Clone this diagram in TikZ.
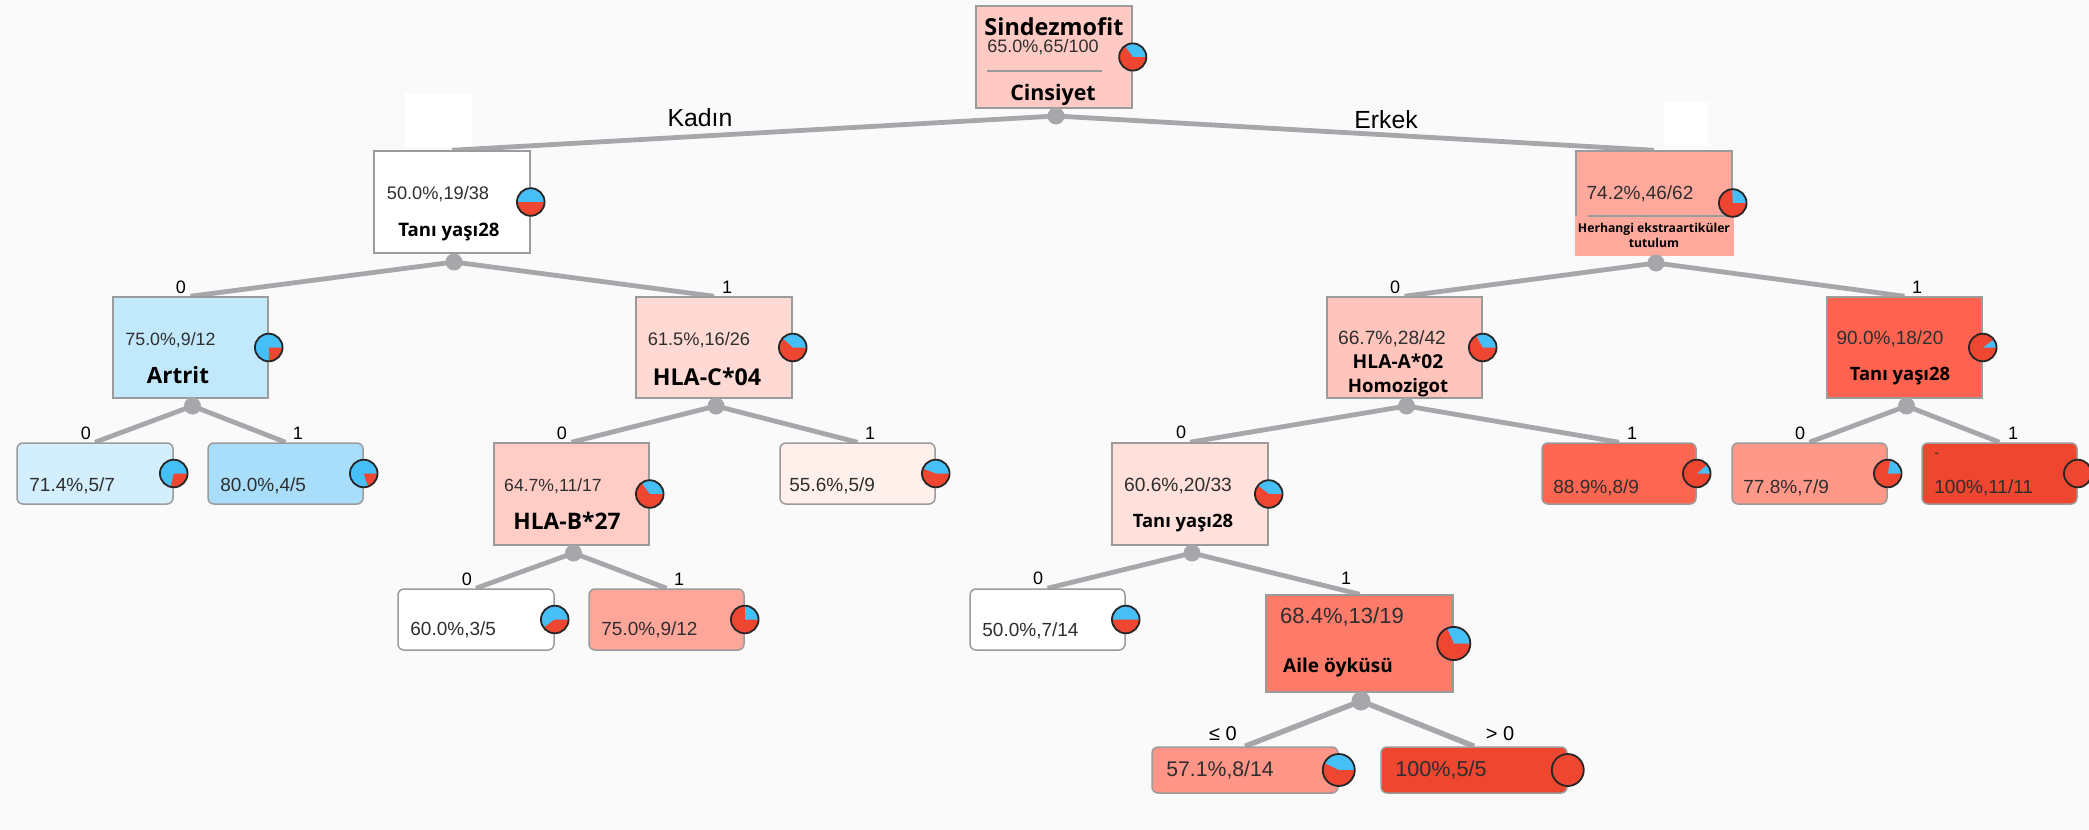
\documentclass[tikz,border=0pt]{standalone}
\usepackage{fontspec}
\setmainfont{Liberation Sans}
\newfontfamily\boldfam{Open Sans}

\definecolor{bgcol}{HTML}{FAFAFA}
\definecolor{boxline}{HTML}{9B9B9B}
\definecolor{edgecol}{HTML}{A7A7AB}
\definecolor{numcol}{HTML}{2E2E2E}
\definecolor{piered}{HTML}{EE4630}
\definecolor{pieblue}{HTML}{46BEF6}
% node fills
\definecolor{cRoot}{HTML}{FFCAC3}
\definecolor{cArtrit}{HTML}{C2E8FC}
\definecolor{cHlaC}{HTML}{FFDAD4}
\definecolor{cHlaB}{HTML}{FFCDC6}
\definecolor{cHerh}{HTML}{FFA89C}
\definecolor{cHlaA}{HTML}{FFC5BD}
\definecolor{cTanR}{HTML}{FF634F}
\definecolor{cTanM}{HTML}{FFE0DA}
\definecolor{cAile}{HTML}{FF7B69}
\definecolor{cLa}{HTML}{D3EFFD}
\definecolor{cLb}{HTML}{A9DEFA}
\definecolor{cLc}{HTML}{FFF0EC}
\definecolor{cLe}{HTML}{FFA69A}
\definecolor{cLf}{HTML}{FF6652}
\definecolor{cLg}{HTML}{FF9889}
\definecolor{cLh}{HTML}{EF462F}
\definecolor{cLj}{HTML}{FF9586}
\definecolor{cLk}{HTML}{EE462F}

\pgfdeclarelayer{bg}
\pgfsetlayers{bg,main}

% class pie: red share drawn clockwise from 3 o'clock, blue for the rest
\newcommand{\piechart}[3]{%
  \fill[pieblue] (#1) circle[radius=#2];
  \fill[piered] (#1) -- ++(0:#2) arc[start angle=0, delta angle={-360*#3}, radius=#2] -- cycle;
  \draw[black!85, line width=0.9pt] (#1) circle[radius=#2];
}

\begin{document}
\begin{tikzpicture}[x=0.5pt, y=-0.5pt,
  splitbox/.style={draw=boxline, line width=0.75pt, minimum width=78pt, minimum height=50.5pt, inner sep=0pt},
  leafbox/.style={splitbox, rounded corners=3pt, minimum height=30.5pt},
  conn/.style={draw=edgecol, line width=2.4pt},
  splitdot/.style={circle, fill=edgecol, minimum size=8.5pt, inner sep=0pt},
  numtext/.style={font=\fontsize{9.2}{11}\selectfont, text=numcol, inner sep=0pt, anchor=base},
  leaftext/.style={numtext, font=\fontsize{9.5}{11}\selectfont, anchor=base west},
  vartext/.style={font=\boldfam\bfseries\fontsize{9.3}{11}\selectfont, inner sep=0pt, anchor=base},
  branchtext/.style={font=\fontsize{9}{10}\selectfont, inner sep=0pt, anchor=base},
  sepline/.style={draw=boxline, line width=0.7pt}
]
\begin{pgfonlayer}{bg}
  \fill[bgcol] (0,0) rectangle (2089,830);
  \fill[white] (405,93) rectangle (472,147);
  \fill[white] (1664,102) rectangle (1708,146);
\end{pgfonlayer}
\useasboundingbox (0,0) rectangle (2089,830);

% ---- split nodes
\node[splitbox, fill=cRoot, minimum height=51pt] (root) at (1054,57) {};
\node[splitbox, fill=white, minimum height=51pt] (tanL) at (452,202) {};
\node[splitbox, fill=cArtrit, minimum width=77.5pt] (artrit) at (190.5,347.5) {};
\node[splitbox, fill=cHlaC] (hlac) at (714,347.5) {};
\node[splitbox, fill=cHlaB, minimum width=77.5pt, minimum height=51pt] (hlab) at (571.5,494) {};
\node[splitbox, fill=cHerh, minimum height=52pt] (herh) at (1654,203) {};
\node[splitbox, fill=cHlaA, minimum width=77.5pt] (hlaa) at (1404.5,347.5) {};
\node[splitbox, fill=cTanR, minimum width=77.5pt] (tanR) at (1904.5,347.5) {};
\node[splitbox, fill=cTanM, minimum height=51pt] (tanM) at (1190,494) {};
\node[splitbox, fill=cAile, minimum width=93.5pt, minimum height=48.5pt] (aile) at (1359.5,643.5) {};

% ---- leaves
\node[leafbox, fill=cLa] (lA) at (95,473.5) {};
\node[leafbox, fill=cLb, minimum width=77.5pt] (lB) at (285.5,473.5) {};
\node[leafbox, fill=cLc, minimum width=77.5pt] (lC) at (857.5,473.5) {};
\node[leafbox, fill=white] (lD) at (476,619.5) {};
\node[leafbox, fill=cLe, minimum width=77.5pt] (lE) at (666.5,619.5) {};
\node[leafbox, fill=cLf, minimum width=77pt] (lF) at (1619,473.5) {};
\node[leafbox, fill=cLg, minimum width=77.5pt] (lG) at (1809.5,473.5) {};
\node[leafbox, fill=cLh, minimum width=77.5pt] (lH) at (1999.5,473.5) {};
\node[leafbox, fill=white, minimum width=77.5pt] (lI) at (1047.5,619.5) {};
\node[leafbox, fill=cLj, minimum width=93pt, minimum height=23pt] (lJ) at (1245,770) {};
\node[leafbox, fill=cLk, minimum width=93pt, minimum height=23pt] (lK) at (1474,770) {};

% lower band of the Herhangi node
\fill[cHerh] (1574.5,216) rectangle (1734,256);
\draw[sepline] (1588,216) -- (1731,216);
\draw[sepline] (987,71) -- (1102,71);

% ---- split dots
\node[splitdot] (dRoot) at (1056,116) {};
\node[splitdot] (dTanL) at (454,262) {};
\node[splitdot] (dArtrit) at (192.5,406) {};
\node[splitdot] (dHlaC) at (716,406) {};
\node[splitdot] (dHlaB) at (573.5,553) {};
\node[splitdot] (dHerh) at (1656,263) {};
\node[splitdot] (dHlaA) at (1406.5,406) {};
\node[splitdot] (dTanR) at (1906.5,406) {};
\node[splitdot] (dTanM) at (1192,553) {};
\node[splitdot, minimum size=9.5pt] (dAile) at (1361,701) {};

% ---- connectors
\begin{pgfonlayer}{bg}
  \draw[conn] (dRoot.center) -- (tanL.north);
  \draw[conn] (dRoot.center) -- (herh.north);
  \draw[conn] (dTanL.center) -- (artrit.north);
  \draw[conn] (dTanL.center) -- (hlac.north);
  \draw[conn] (dArtrit.center) -- (lA.north);
  \draw[conn] (dArtrit.center) -- (lB.north);
  \draw[conn] (dHlaC.center) -- (hlab.north);
  \draw[conn] (dHlaC.center) -- (lC.north);
  \draw[conn] (dHlaB.center) -- (lD.north);
  \draw[conn] (dHlaB.center) -- (lE.north);
  \draw[conn] (dHerh.center) -- (hlaa.north);
  \draw[conn] (dHerh.center) -- (tanR.north);
  \draw[conn] (dHlaA.center) -- (tanM.north);
  \draw[conn] (dHlaA.center) -- (lF.north);
  \draw[conn] (dTanR.center) -- (lG.north);
  \draw[conn] (dTanR.center) -- (lH.north);
  \draw[conn] (dTanM.center) -- (lI.north);
  \draw[conn] (dTanM.center) -- (aile.north);
  \draw[conn, line width=2.7pt] (dAile.center) -- (lJ.north);
  \draw[conn, line width=2.7pt] (dAile.center) -- (lK.north);
\end{pgfonlayer}

% ---- branch labels
\node[branchtext, font=\fontsize{12.4}{14}\selectfont] (tKadin) at (700,126) {Kadın};
\node[branchtext, font=\fontsize{12.4}{14}\selectfont] (tErkek) at (1386,128) {Erkek};
\node[branchtext] (b1) at (181,293) {0};
\node[branchtext] (b2) at (727,293) {1};
\node[branchtext] (b3) at (1395,293) {0};
\node[branchtext] (b4) at (1917,293) {1};
\node[branchtext] (b5) at (86,439) {0};
\node[branchtext] (b6) at (298,439) {1};
\node[branchtext] (b7) at (562,439) {0};
\node[branchtext] (b8) at (870,439) {1};
\node[branchtext] (b9) at (1181,438) {0};
\node[branchtext] (b10) at (1632,439) {1};
\node[branchtext] (b11) at (1800,439) {0};
\node[branchtext] (b12) at (2013,439) {1};
\node[branchtext] (b13) at (467,585) {0};
\node[branchtext] (b14) at (679,585) {1};
\node[branchtext] (b15) at (1038,584) {0};
\node[branchtext] (b16) at (1346,584) {1};
\node[branchtext, font=\fontsize{10}{12}\selectfont] (b17) at (1223,740) {≤ 0};
\node[branchtext, font=\fontsize{10}{12}\selectfont] (b18) at (1500,740) {> 0};

% ---- node texts
\node[vartext, font=\boldfam\bfseries\fontsize{11.7}{13}\selectfont] (tRoot1) at (1054,35) {Sindezmofit};
\node[numtext, font=\fontsize{9}{10}\selectfont] (tRoot2) at (1043,52.7) {65.0\%,65/100};
\node[vartext, font=\boldfam\bfseries\fontsize{10.7}{12}\selectfont] (tRoot3) at (1053,100) {Cinsiyet};

\node[numtext, font=\fontsize{9.1}{10}\selectfont] (tTanL1) at (438,199) {50.0\%,19/38};
\node[vartext] (tTanL2) at (449,236) {Tanı yaşı28};

\node[numtext, font=\fontsize{8.9}{10}\selectfont] (tArt1) at (170.5,345) {75.0\%,9/12};
\node[vartext, font=\boldfam\bfseries\fontsize{11.2}{13}\selectfont] (tArt2) at (178,383) {Artrit};

\node[numtext, font=\fontsize{9.1}{10}\selectfont] (tHlaC1) at (699,345) {61.5\%,16/26};
\node[vartext, font=\boldfam\bfseries\fontsize{11.6}{13}\selectfont] (tHlaC2) at (707,385) {HLA-C*04};

\node[numtext, font=\fontsize{8.8}{10}\selectfont] (tHlaB1) at (553,491) {64.7\%,11/17};
\node[vartext, font=\boldfam\bfseries\fontsize{11.4}{13}\selectfont] (tHlaB2) at (567,529) {HLA-B*27};

\node[numtext, font=\fontsize{9.5}{11}\selectfont] (tHerh1) at (1640,199) {74.2\%,46/62};
\node[vartext, font=\boldfam\bfseries\fontsize{6.1}{7}\selectfont] (tHerh2) at (1654,232) {Herhangi ekstraartiküler};
\node[vartext, font=\boldfam\bfseries\fontsize{6.1}{7}\selectfont] (tHerh3) at (1654,247) {tutulum};

\node[numtext, font=\fontsize{9.6}{11}\selectfont] (tHlaA1) at (1392,344) {66.7\%,28/42};
\node[vartext, font=\boldfam\bfseries\fontsize{9.6}{11}\selectfont] (tHlaA2) at (1398,368) {HLA-A*02};
\node[vartext] (tHlaA3) at (1398,392) {Homozigot};

\node[numtext, font=\fontsize{9.5}{11}\selectfont] (tTanR1) at (1890,344) {90.0\%,18/20};
\node[vartext, font=\boldfam\bfseries\fontsize{9.2}{11}\selectfont] (tTanR2) at (1900,380) {Tanı yaşı28};

\node[numtext, font=\fontsize{9.6}{11}\selectfont] (tTanM1) at (1178,491) {60.6\%,20/33};
\node[vartext, font=\boldfam\bfseries\fontsize{9.2}{11}\selectfont] (tTanM2) at (1183,527) {Tanı yaşı28};

\node[numtext, font=\fontsize{11}{13}\selectfont] (tAile1) at (1342,623) {68.4\%,13/19};
\node[vartext, font=\boldfam\bfseries\fontsize{9.5}{11}\selectfont] (tAile2) at (1338,672) {Aile öyküsü};

\node[leaftext] (tA) at (29,491) {71.4\%,5/7};
\node[leaftext] (tB) at (220,491) {80.0\%,4/5};
\node[leaftext] (tC) at (789,491) {55.6\%,5/9};
\node[leaftext] (tD) at (410,635) {60.0\%,3/5};
\node[leaftext] (tE) at (601,635) {75.0\%,9/12};
\node[leaftext] (tF) at (1553,493) {88.9\%,8/9};
\node[leaftext] (tG) at (1743,493) {77.8\%,7/9};
\node[leaftext] (tH) at (1934,493) {100\%,11/11};
\node[leaftext, font=\fontsize{7}{8}\selectfont] (tHdash) at (1934,457) {-};
\node[leaftext] (tI) at (982,636) {50.0\%,7/14};
\node[leaftext, font=\fontsize{10.6}{12}\selectfont] (tJ) at (1166,776) {57.1\%,8/14};
\node[leaftext, font=\fontsize{10.8}{12}\selectfont] (tK) at (1395,776) {100\%,5/5};

% ---- class pies
\piechart{root.east}{6.8pt}{0.65}
\piechart{tanL.east}{6.9pt}{0.5}
\piechart{artrit.east}{6.9pt}{0.25}
\piechart{hlac.east}{6.9pt}{0.615}
\piechart{hlab.east}{6.9pt}{0.647}
\piechart{herh.east}{6.9pt}{0.742}
\piechart{hlaa.east}{6.9pt}{0.667}
\piechart{tanR.east}{6.9pt}{0.9}
\piechart{tanM.east}{6.9pt}{0.606}
\piechart{aile.east}{8.3pt}{0.684}
\piechart{lA.east}{6.9pt}{0.286}
\piechart{lB.east}{6.9pt}{0.2}
\piechart{lC.east}{6.9pt}{0.556}
\piechart{lD.east}{6.9pt}{0.4}
\piechart{lE.east}{6.9pt}{0.75}
\piechart{lF.east}{6.9pt}{0.889}
\piechart{lG.east}{6.9pt}{0.778}
\piechart{lH.east}{6.9pt}{1}
\piechart{lI.east}{6.9pt}{0.5}
\piechart{lJ.east}{8pt}{0.571}
\piechart{lK.east}{8pt}{1}
\end{tikzpicture}
\end{document}
